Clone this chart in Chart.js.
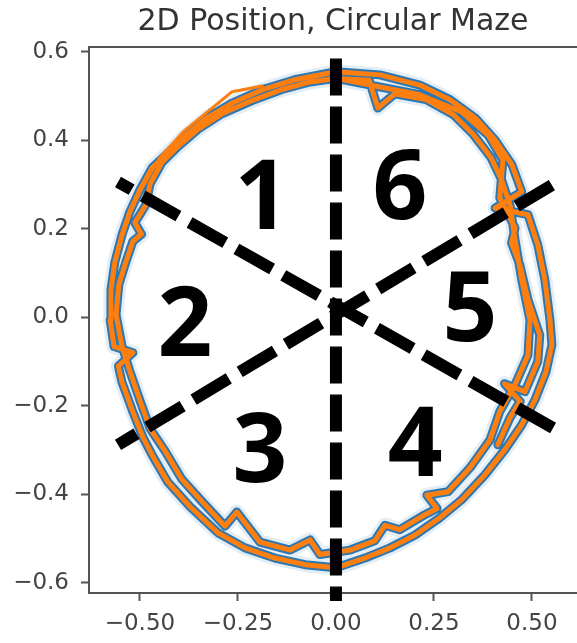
<!DOCTYPE html>
<html>
<head>
<meta charset="utf-8">
<title>2D Position, Circular Maze</title>
<script src="https://cdn.jsdelivr.net/npm/chart.js@4.4.0/dist/chart.umd.min.js"></script>
<style>
  html, body { margin: 0; padding: 0; background: #fff; overflow: hidden; }
  canvas { display: block; }
</style>
</head>
<body>
<canvas id="mazeChart" width="577" height="643"></canvas>
<script>
/* =======================
   DATA
======================= */
const xTicks = [-0.5, -0.25, 0, 0.25, 0.5];
const yTicks = [-0.6, -0.4, -0.2, 0, 0.2, 0.4, 0.6];

// outer lap, clockwise from the top
const lap1X = [0, 0.112, 0.214, 0.291, 0.355, 0.406, 0.449, 0.474, 0.406, 0.490, 0.515, 0.533, 0.546, 0.551, 0.536, 0.508, 0.474, 0.431, 0.380, 0.321, 0.265, 0.202, 0.138, 0.074, 0, -0.079, -0.156, -0.232, -0.301, -0.372, -0.429, -0.469, -0.492, -0.520, -0.546, -0.555, -0.518, -0.566, -0.576, -0.574, -0.564, -0.546, -0.526, -0.500, -0.469, -0.434, -0.385, -0.329, -0.263, -0.189, -0.105, 0];
const lap1Y = [0.555, 0.548, 0.525, 0.492, 0.451, 0.401, 0.345, 0.284, 0.247, 0.232, 0.164, 0.085, -0.006, -0.062, -0.123, -0.186, -0.243, -0.299, -0.356, -0.412, -0.453, -0.492, -0.521, -0.544, -0.566, -0.559, -0.544, -0.521, -0.487, -0.428, -0.372, -0.311, -0.272, -0.209, -0.146, -0.110, -0.080, -0.066, -0.006, 0.062, 0.125, 0.186, 0.238, 0.288, 0.338, 0.367, 0.410, 0.451, 0.485, 0.514, 0.537, 0.555];

// inner lap
const lap2X = [0, 0.085, 0.107, 0.150, 0.230, 0.300, 0.350, 0.395, 0.423, 0.444, 0.457, 0.474, 0.495, 0.490, 0.457, 0.418, 0.393, 0.342, 0.286, 0.232, 0.258, 0.227, 0.163, 0.125, 0.099, 0.036, -0.041, -0.066, -0.117, -0.194, -0.253, -0.283, -0.342, -0.393, -0.436, -0.474, -0.500, -0.526, -0.546, -0.561, -0.554, -0.536, -0.518, -0.496, -0.513, -0.485, -0.474, -0.444, -0.403, -0.352, -0.291, -0.214, -0.138, -0.066, 0];
const lap2Y = [0.540, 0.536, 0.473, 0.505, 0.492, 0.458, 0.414, 0.362, 0.310, 0.254, 0.175, 0.085, -0.006, -0.085, -0.152, -0.213, -0.277, -0.340, -0.394, -0.402, -0.432, -0.446, -0.480, -0.470, -0.505, -0.526, -0.536, -0.503, -0.526, -0.508, -0.440, -0.472, -0.416, -0.366, -0.302, -0.252, -0.188, -0.121, -0.064, 0.006, 0.073, 0.125, 0.172, 0.188, 0.214, 0.254, 0.302, 0.350, 0.386, 0.425, 0.460, 0.490, 0.515, 0.532, 0.540];

// extra pass down the right side
const lap3X = [0.214, 0.321, 0.388, 0.426, 0.418, 0.457, 0.448, 0.469, 0.490, 0.520, 0.515, 0.482, 0.430, 0.470, 0.444, 0.413];
const lap3Y = [0.503, 0.464, 0.412, 0.356, 0.270, 0.202, 0.168, 0.119, 0.040, -0.040, -0.100, -0.168, -0.150, -0.190, -0.227, -0.288];

// thin orange-only jump on the upper left
const jumpX = [-0.556, -0.513, -0.449, -0.390, -0.265, -0.189];
const jumpY = [0.153, 0.266, 0.361, 0.419, 0.510, 0.523];

// sector dividers
const vLineX = [0, 0];
const vLineY = [0.585, -0.641];
const diagAX = [0.554, -0.556];
const diagAY = [-0.250, 0.306];
const diagBX = [0.551, -0.556];
const diagBY = [0.299, -0.288];

// sector numbers (centre of each digit)
const sectorLabels = ['1', '2', '3', '4', '5', '6'];
const labelX = [-0.189, -0.385, -0.194, 0.202, 0.342, 0.163];
const labelY = [0.277, -0.010, -0.295, -0.281, 0.024, 0.299];

/* =======================
   HELPERS
======================= */
const toPoints = (xs, ys) => xs.map((x, i) => ({ x: x, y: ys[i] }));
const fmt = (v, d) => (v < -1e-9 ? '\u2212' : '') + Math.abs(v).toFixed(d);

const track = toPoints(lap1X, lap1Y)
  .concat(toPoints(lap2X, lap2Y))
  .concat(toPoints(lap3X, lap3Y));

function dashed(xs, ys, dash) {
  return {
    data: toPoints(xs, ys),
    showLine: true,
    borderColor: '#000',
    borderWidth: 12,
    borderDash: dash,
    pointRadius: 0,
    clip: false
  };
}

function trace(data, color, width) {
  return {
    data: data,
    showLine: true,
    borderColor: color,
    borderWidth: width,
    borderJoinStyle: 'round',
    borderCapStyle: 'round',
    pointRadius: 0,
    tension: 0
  };
}

/* =======================
   PLUGINS
======================= */
const topSpine = {
  id: 'topSpine',
  afterDraw(chart) {
    const { ctx, chartArea } = chart;
    ctx.save();
    ctx.strokeStyle = '#555';
    ctx.lineWidth = 2;
    ctx.beginPath();
    ctx.moveTo(chartArea.left - 1, chartArea.top);
    ctx.lineTo(chartArea.right, chartArea.top);
    ctx.stroke();
    ctx.restore();
  }
};

const sectorNumbers = {
  id: 'sectorNumbers',
  afterDatasetsDraw(chart) {
    const { ctx, scales } = chart;
    ctx.save();
    ctx.fillStyle = '#000';
    ctx.font = 'bold 96px "Open Sans"';
    ctx.textAlign = 'center';
    ctx.textBaseline = 'alphabetic';
    sectorLabels.forEach((t, i) => {
      ctx.fillText(t, scales.x.getPixelForValue(labelX[i]), scales.y.getPixelForValue(labelY[i]) + 34);
    });
    ctx.restore();
  }
};

/* =======================
   CHART
======================= */
const tickFont = { family: 'DejaVu Sans', size: 23 };

new Chart(document.getElementById('mazeChart'), {
  type: 'scatter',
  data: {
    datasets: [
      dashed(vLineX, vLineY, [37, 11]),
      dashed(diagAX, diagAY, [41, 12.8]),
      dashed(diagBX, diagBY, [41, 12.8]),
      trace(toPoints(jumpX, jumpY), '#ff7f0e', 3),
      trace(track, '#ff7f0e', 5),
      trace(track, '#2f77b0', 9),
      trace(track, 'rgba(31,119,180,0.13)', 15)
    ]
  },
  options: {
    responsive: false,
    animation: false,
    events: [],
    layout: { padding: 0 },
    plugins: {
      legend: { display: false },
      tooltip: { enabled: false },
      title: {
        display: true,
        fullSize: false,
        text: '2D Position, Circular Maze',
        color: '#333',
        font: { family: 'DejaVu Sans', size: 30, weight: 'normal', lineHeight: 1.2 },
        padding: { top: 4, bottom: 7 }
      }
    },
    scales: {
      x: {
        type: 'linear',
        min: -0.63,
        max: 0.615,
        afterBuildTicks: s => { s.ticks = xTicks.map(v => ({ value: v })); },
        afterFit: s => { s.height = 50; },
        ticks: { color: '#444', font: tickFont, padding: 9, callback: v => fmt(v, 2) },
        grid: { drawOnChartArea: false, drawTicks: true, tickLength: 8, tickWidth: 2, tickColor: '#555' },
        border: { display: true, color: '#555', width: 2 }
      },
      y: {
        type: 'linear',
        min: -0.623,
        max: 0.611,
        afterBuildTicks: s => { s.ticks = yTicks.map(v => ({ value: v })); },
        afterFit: s => { s.width = 89; },
        ticks: { color: '#444', font: tickFont, padding: 12, callback: v => fmt(v, 1) },
        grid: { drawOnChartArea: false, drawTicks: true, tickLength: 8, tickWidth: 2, tickColor: '#555' },
        border: { display: true, color: '#555', width: 2 }
      }
    }
  },
  plugins: [topSpine, sectorNumbers]
});
</script>
</body>
</html>
